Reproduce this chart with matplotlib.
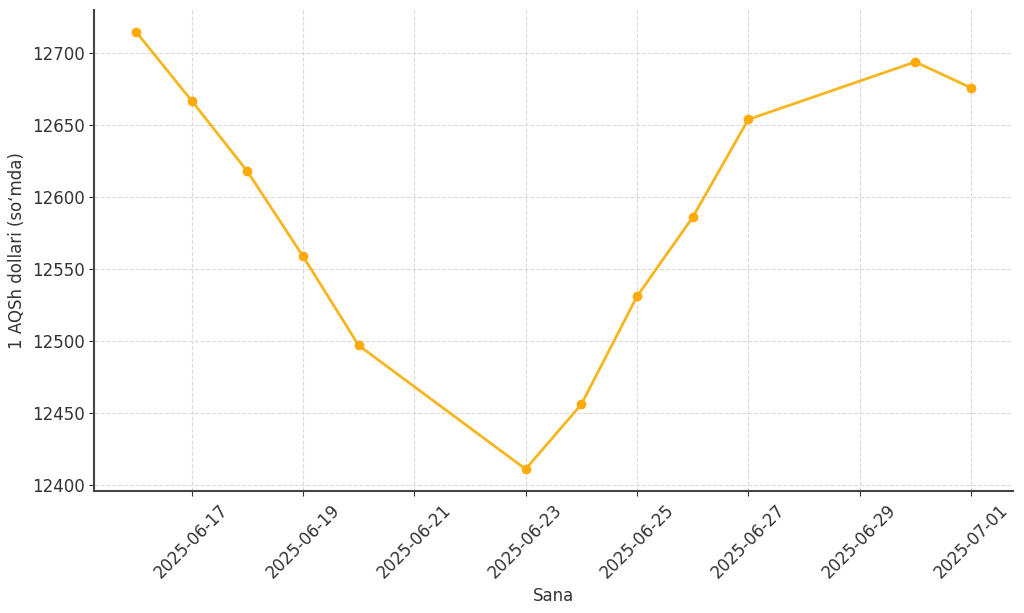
import pandas as pd
import matplotlib
matplotlib.use("Agg")
import matplotlib.pyplot as plt
import matplotlib.dates as mdates

# === Data ===
dates = ["2025-06-16", "2025-06-17", "2025-06-18", "2025-06-19", "2025-06-20",
         "2025-06-23", "2025-06-24", "2025-06-25", "2025-06-26", "2025-06-27",
         "2025-06-30", "2025-07-01"]
rates = [12715, 12667, 12618, 12559, 12497,
         12411, 12456, 12531, 12586, 12654,
         12694, 12676]

x = pd.to_datetime(dates)

# === Plot ===
fig, ax = plt.subplots(figsize=(10.24, 6.13), dpi=100)
ax.plot(x, rates, marker='o', color='#f7b51e', markerfacecolor='#ffa90a',
        markeredgecolor='#ffa90a', linewidth=2, markersize=6)

# odd days of the month, every 2nd day
ax.xaxis.set_major_locator(mdates.DayLocator(bymonthday=range(1, 32, 2)))
ax.xaxis.set_major_formatter(mdates.DateFormatter('%Y-%m-%d'))
plt.xticks(rotation=45)

ax.set_xlabel('Sana', fontsize=12, color='#333333')
ax.set_ylabel("1 AQSh dollari (so\u02bbmda)", fontsize=12, color='#333333')
ax.tick_params(labelsize=12, colors='#333333')
ax.grid(True, linestyle='--', color='#d9d9d9', linewidth=0.8)

for s in ['top', 'right']:
    ax.spines[s].set_visible(False)
for s in ['left', 'bottom']:
    ax.spines[s].set_color('#444444')
    ax.spines[s].set_linewidth(1.5)

plt.subplots_adjust(left=0.092, right=0.989, top=0.984, bottom=0.199)
plt.savefig("out.png", dpi=100)
